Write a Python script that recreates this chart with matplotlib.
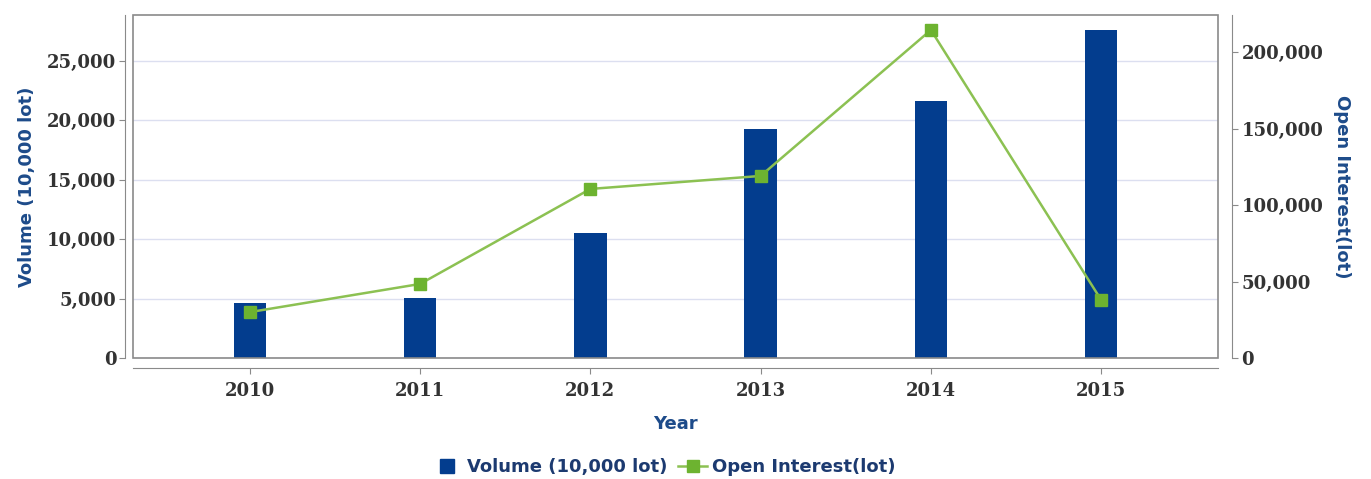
import matplotlib
matplotlib.use("Agg")
import matplotlib.pyplot as plt
from matplotlib.ticker import FuncFormatter, FixedLocator
from matplotlib.lines import Line2D
from matplotlib.patches import Rectangle

years = ["2010", "2011", "2012", "2013", "2014", "2015"]
volume = [4630, 5050, 10520, 19280, 21630, 27600]
open_interest = [30000, 48400, 110500, 119000, 214400, 37900]
left_ticks = [0, 5000, 10000, 15000, 20000, 25000]
right_ticks = [0, 50000, 100000, 150000, 200000]

bar_color = "#033d8e"
line_color = "#8cc152"
marker_color = "#6db330"
label_color = "#1d4b8a"
tick_color = "#333333"
grid_color = "#dcdff0"
frame_color = "#8a8a8a"

fig = plt.figure(figsize=(13.71, 4.79), dpi=100)
ax = fig.add_axes([0.097, 0.2526, 0.7914, 0.7161])
ax2 = ax.twinx()

x = list(range(len(years)))
ax.bar(x, volume, width=0.19, color=bar_color, zorder=3)
ax2.plot(x, open_interest, color=line_color, lw=1.8, marker="s", ms=8,
         mfc=marker_color, mec=marker_color, zorder=4)

ax.set_xlim(-0.686, 5.686)
ax.set_ylim(0, 28870)
ax2.set_ylim(0, 224200)

ax.yaxis.set_major_locator(FixedLocator(left_ticks))
ax2.yaxis.set_major_locator(FixedLocator(right_ticks))
fmt = FuncFormatter(lambda v, p: f"{int(v):,}")
ax.yaxis.set_major_formatter(fmt)
ax2.yaxis.set_major_formatter(fmt)
ax.set_xticks(x)
ax.set_xticklabels(years)

ax.grid(axis="y", color=grid_color, lw=1, zorder=0)
ax.set_axisbelow(True)

for a in (ax, ax2):
    for s in a.spines.values():
        s.set_visible(False)

ax.spines["left"].set_visible(True)
ax.spines["left"].set_position(("outward", 6))
ax.spines["left"].set_color(frame_color)
ax.spines["bottom"].set_visible(True)
ax.spines["bottom"].set_position(("outward", 7))
ax.spines["bottom"].set_color(frame_color)
ax2.spines["right"].set_visible(True)
ax2.spines["right"].set_position(("outward", 10))
ax2.spines["right"].set_color(frame_color)

ax.add_patch(Rectangle((0, 0), 1, 1, transform=ax.transAxes, fill=False,
                       edgecolor=frame_color, lw=1.2, zorder=5, clip_on=False))

ax.tick_params(axis="y", length=4, color=frame_color, pad=2)
ax.tick_params(axis="x", length=4, color=frame_color, pad=6)
ax2.tick_params(axis="y", length=4, color=frame_color, pad=3)
for lbl in ax.get_yticklabels() + ax.get_xticklabels() + ax2.get_yticklabels():
    lbl.set_fontsize(13)
    lbl.set_fontweight("bold")
    lbl.set_color(tick_color)
    lbl.set_family("DejaVu Serif")

lab_font = dict(fontsize=13, fontweight="bold", color=label_color)
ax.set_xlabel("Year", labelpad=11, **lab_font)
ax.set_ylabel("Volume (10,000 lot)", labelpad=8, **lab_font)
ax2.set_ylabel("Open Interest(lot)", rotation=270, labelpad=20, **lab_font)

handles = [
    Line2D([], [], ls="none", marker="s", ms=10, mfc=bar_color, mec=bar_color),
    Line2D([], [], color=line_color, lw=1.8, marker="s", ms=8, mfc=marker_color, mec=marker_color),
]
fig.legend(handles, ["Volume (10,000 lot)", "Open Interest(lot)"], loc="center",
           bbox_to_anchor=(0.4845, 0.025), ncol=2, frameon=False, handlelength=1.6,
           columnspacing=0.6, handletextpad=0.3,
           prop=dict(size=13, weight="bold"), labelcolor="#1c3a70")

fig.savefig("out.png", dpi=100)
